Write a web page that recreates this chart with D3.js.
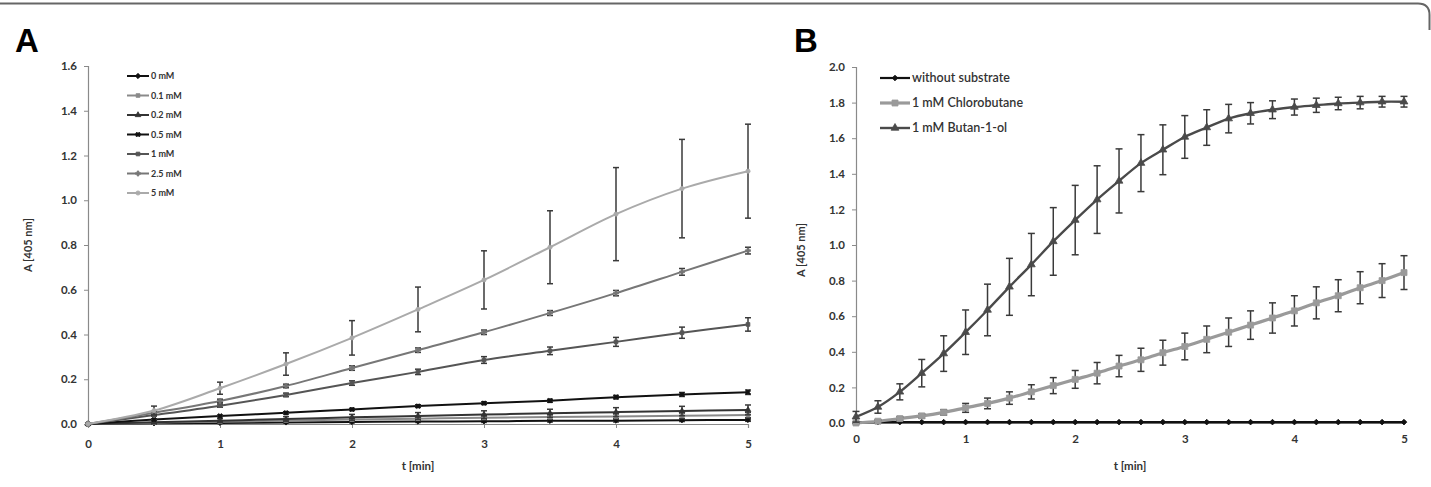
<!DOCTYPE html>
<html>
<head>
<meta charset="utf-8">
<script src="https://cdn.jsdelivr.net/npm/d3@7"></script>
<style>
  body { margin: 0; background: #fff; }
  svg text { font-family: Lato, "Open Sans", sans-serif; }
</style>
</head>
<body>
<div class="mainView"></div>
<script>
// ---- panel A data ----
let tA = [0, 0.5, 1, 1.5, 2, 2.5, 3, 3.5, 4, 4.5, 5];
let namesA = ["0 mM", "0.1 mM", "0.2 mM", "0.5 mM", "1 mM", "2.5 mM", "5 mM"];
let valsA = [
    [0, 0.003, 0.005, 0.007, 0.009, 0.011, 0.012, 0.014, 0.015, 0.017, 0.018],
    [0, 0.006, 0.010, 0.015, 0.020, 0.024, 0.028, 0.031, 0.034, 0.037, 0.040],
    [0, 0.008, 0.015, 0.022, 0.030, 0.036, 0.042, 0.048, 0.053, 0.058, 0.063],
    [0, 0.020, 0.036, 0.050, 0.065, 0.080, 0.093, 0.104, 0.120, 0.132, 0.142],
    [0, 0.040, 0.082, 0.130, 0.183, 0.233, 0.286, 0.327, 0.367, 0.408, 0.445],
    [0, 0.050, 0.103, 0.170, 0.250, 0.330, 0.410, 0.496, 0.585, 0.680, 0.775],
    [0, 0.060, 0.160, 0.268, 0.385, 0.512, 0.644, 0.790, 0.938, 1.052, 1.130]
];
let errsA = [
    [0, 0.002, 0.003, 0.003, 0.004, 0.004, 0.005, 0.005, 0.006, 0.006, 0.006],
    [0, 0.004, 0.005, 0.006, 0.007, 0.008, 0.009, 0.010, 0.011, 0.012, 0.012],
    [0, 0.006, 0.009, 0.011, 0.013, 0.015, 0.017, 0.018, 0.020, 0.021, 0.022],
    [0, 0.003, 0.004, 0.005, 0.005, 0.006, 0.006, 0.007, 0.008, 0.009, 0.010],
    [0, 0.005, 0.007, 0.008, 0.010, 0.012, 0.015, 0.017, 0.020, 0.025, 0.030],
    [0, 0.005, 0.008, 0.008, 0.010, 0.010, 0.010, 0.011, 0.012, 0.015, 0.015],
    [0, 0.020, 0.027, 0.050, 0.077, 0.100, 0.130, 0.163, 0.208, 0.220, 0.210]
];
let ticksAy = [0, 0.2, 0.4, 0.6, 0.8, 1.0, 1.2, 1.4, 1.6];

// ---- panel B data ----
let tB = [0, 0.2, 0.4, 0.6, 0.8, 1, 1.2, 1.4, 1.6, 1.8, 2, 2.2, 2.4, 2.6, 2.8, 3,
          3.2, 3.4, 3.6, 3.8, 4, 4.2, 4.4, 4.6, 4.8, 5];
let namesB = ["without substrate", "1 mM Chlorobutane", "1 mM Butan-1-ol"];
let noSub = [0.005, 0.005, 0.005, 0.005, 0.005, 0.005, 0.005, 0.005, 0.005, 0.005, 0.005, 0.005, 0.005,
             0.005, 0.005, 0.005, 0.005, 0.005, 0.005, 0.005, 0.005, 0.005, 0.005, 0.005, 0.005, 0.005];
let noSubErr = [0, 0, 0, 0, 0, 0, 0, 0, 0, 0, 0, 0, 0, 0, 0, 0, 0, 0, 0, 0, 0, 0, 0, 0, 0, 0];
let chloro = [0.0, 0.01, 0.025, 0.04, 0.06, 0.085, 0.11, 0.14, 0.175, 0.21, 0.245, 0.28, 0.32,
              0.355, 0.395, 0.43, 0.47, 0.51, 0.55, 0.59, 0.63, 0.675, 0.715, 0.76, 0.80, 0.845];
let chloroErr = [0.005, 0.008, 0.01, 0.012, 0.015, 0.025, 0.03, 0.035, 0.04, 0.045, 0.05, 0.06, 0.06,
                 0.065, 0.07, 0.075, 0.075, 0.08, 0.08, 0.085, 0.085, 0.09, 0.09, 0.09, 0.095, 0.095];
let butanol = [0.035, 0.09, 0.175, 0.28, 0.39, 0.51, 0.635, 0.765, 0.89, 1.02, 1.14, 1.255, 1.36,
               1.46, 1.535, 1.607, 1.66, 1.71, 1.74, 1.76, 1.775, 1.785, 1.795, 1.80, 1.805, 1.805];
let butanolErr = [0.03, 0.035, 0.045, 0.077, 0.10, 0.125, 0.145, 0.16, 0.175, 0.19, 0.195, 0.19, 0.18,
                  0.16, 0.14, 0.12, 0.10, 0.08, 0.06, 0.05, 0.045, 0.04, 0.035, 0.035, 0.03, 0.03];
let ticksBy = [0, 0.2, 0.4, 0.6, 0.8, 1.0, 1.2, 1.4, 1.6, 1.8, 2.0];
let ticksX = [0, 1, 2, 3, 4, 5];

let width = 1431, height = 487;
let svg = d3.select(".mainView").append("svg")
    .attr("width", width).attr("height", height);

// frame: top rule with rounded right corner
svg.append("path")
    .attr("d", "M0,3.5 H1418 Q1429.5,3.5 1429.5,15 V30")
    .style("fill", "none").style("stroke", "#666").style("stroke-width", 2);

function panel(opts){
    let g = svg.append("g");
    let x = d3.scaleLinear().domain([0, 5]).range([opts.left, opts.right]);
    let y = d3.scaleLinear().domain([0, opts.ymax]).range([opts.bottom, opts.top]);

    let axisY = d3.axisLeft(y).tickValues(opts.yticks).tickFormat(d3.format(".1f"))
        .tickSize(4).tickPadding(7);
    let gy = g.append("g").attr("transform", "translate(" + opts.left + ",0)").call(axisY);
    let axisX = d3.axisBottom(x).tickValues(ticksX).tickFormat(d3.format("d"))
        .tickSize(opts.xtick).tickPadding(12);
    let gx = g.append("g").attr("transform", "translate(0," + opts.bottom + ")").call(axisX);
    [gx, gy].forEach(a => {
        a.select(".domain").style("stroke", "#8a8a8a").style("stroke-width", 1.2);
        a.selectAll(".tick line").style("stroke", "#8a8a8a");
        a.selectAll("text").style("font-size", "11.5px").style("font-weight", "bold")
            .style("fill", "#333");
    });

    g.append("text").attr("x", opts.letterX).attr("y", 52)
        .text(opts.letter).style("font-size", "33px").style("font-weight", "bold")
        .style("font-family", "'Liberation Sans', Arial, sans-serif");
    g.append("text")
        .attr("transform", "translate(" + opts.ylabX + "," + opts.ylabY + ") rotate(-90)")
        .attr("text-anchor", "middle").text("A [405 nm]")
        .style("font-size", "11px").style("font-weight", "bold").style("fill", "#333");
    g.append("text").attr("x", (opts.left + opts.right) / 2).attr("y", 470)
        .attr("text-anchor", "middle").text("t [min]")
        .style("font-size", "11.5px").style("font-weight", "bold").style("fill", "#333");

    let line = d3.line().x(d => x(d.t)).y(d => y(d.v)).curve(d3.curveCatmullRom.alpha(0.5));

    opts.series.forEach(s => {
        let pts = opts.t.map((t, i) => ({t: t, v: s.vals[i], e: s.errs[i]}));
        g.append("path").datum(pts).attr("d", line)
            .style("fill", "none").style("stroke", s.color).style("stroke-width", s.lw);
        // error bars
        let eb = g.append("g");
        pts.filter(p => p.e > 0).forEach(p => {
            let cx = x(p.t), y1 = y(p.v + p.e), y2 = y(Math.max(p.v - p.e, -0.01));
            eb.append("line").attr("x1", cx).attr("x2", cx).attr("y1", y1).attr("y2", y2)
                .style("stroke", "#3a3a3a").style("stroke-width", 1.5);
            [y1, y2].forEach(yy => eb.append("line")
                .attr("x1", cx - opts.cap).attr("x2", cx + opts.cap).attr("y1", yy).attr("y2", yy)
                .style("stroke", "#3a3a3a").style("stroke-width", 1.5));
        });
        // markers
        let sym = d3.symbol().type(s.shape).size(s.msize);
        g.selectAll(null).data(pts).enter().append("path")
            .attr("d", sym)
            .attr("transform", d => "translate(" + x(d.t) + "," + y(d.v) + ")" + (s.rot ? " rotate(45)" : ""))
            .style("fill", s.color).style("stroke", s.color).style("stroke-width", 0.8);
    });

    // legend
    let lg = g.append("g");
    opts.series.forEach((s, i) => {
        let yy = opts.legY + i * opts.legDy;
        let x0 = opts.legX, x1 = opts.legX + opts.legLen;
        lg.append("line").attr("x1", x0).attr("x2", x1).attr("y1", yy).attr("y2", yy)
            .style("stroke", s.color).style("stroke-width", s.lw);
        lg.append("path").attr("d", d3.symbol().type(s.shape).size(s.msize))
            .attr("transform", "translate(" + ((x0 + x1) / 2) + "," + yy + ")" + (s.rot ? " rotate(45)" : ""))
            .style("fill", s.color).style("stroke", s.color).style("stroke-width", 0.8);
        lg.append("text").attr("x", x1 + 2).attr("y", yy).attr("dy", "0.35em")
            .text(s.name).style("font-size", opts.legFont).style("fill", "#333")
            .style("font-weight", opts.legWeight);
    });
}

let colorsA = ["#111", "#8a8a8a", "#333", "#111", "#555", "#777", "#aaa"];
let shapesA = [d3.symbolSquare, d3.symbolSquare, d3.symbolTriangle, d3.symbolCross,
               d3.symbolSquare, d3.symbolCross, d3.symbolCircle];
let rotA = [true, false, false, true, false, false, false];

panel({
    left: 88, right: 748, top: 66, bottom: 424, ymax: 1.6, yticks: ticksAy, xtick: 4,
    letter: "A", letterX: 15, ylabX: 32, ylabY: 245, cap: 3,
    t: tA,
    series: namesA.map((n, i) => ({
        name: n, vals: valsA[i], errs: errsA[i], color: colorsA[i], lw: 2,
        shape: shapesA[i], rot: rotA[i], msize: 14
    })),
    legX: 127, legY: 76, legDy: 19.5, legLen: 22, legFont: "9px", legWeight: "bold"
});

panel({
    left: 856, right: 1404, top: 67, bottom: 423, ymax: 2.0, yticks: ticksBy, xtick: 0,
    letter: "B", letterX: 794, ylabX: 805, ylabY: 250, cap: 3.5,
    t: tB,
    series: [
        {name: namesB[0], vals: noSub, errs: noSubErr, color: "#111", lw: 2.2,
         shape: d3.symbolSquare, rot: true, msize: 16},
        {name: namesB[1], vals: chloro, errs: chloroErr, color: "#9a9a9a", lw: 3.2,
         shape: d3.symbolSquare, rot: false, msize: 36},
        {name: namesB[2], vals: butanol, errs: butanolErr, color: "#4a4a4a", lw: 2.4,
         shape: d3.symbolTriangle, rot: false, msize: 26}
    ],
    legX: 880, legY: 78, legDy: 25, legLen: 30, legFont: "12.5px", legWeight: "600"
});
</script>
</body>
</html>
